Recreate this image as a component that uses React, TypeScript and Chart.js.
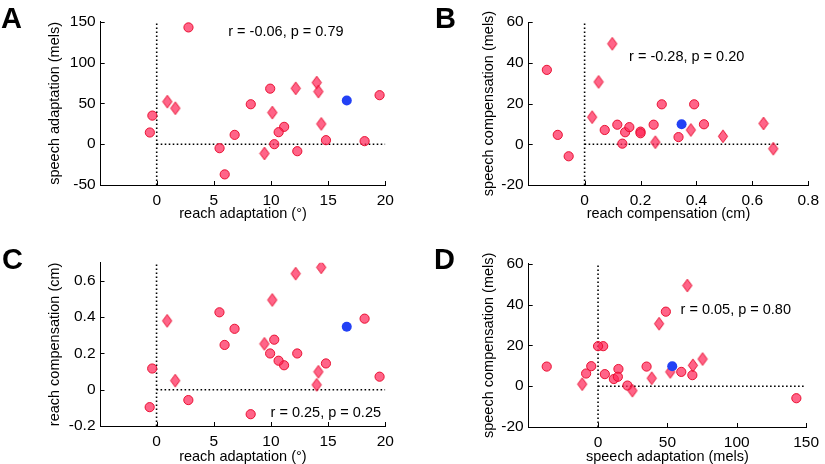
import React, { useEffect, useRef } from "react";
import { Chart, registerables } from "chart.js";

Chart.register(...registerables);

const FONT = "'Liberation Sans', Arial, Helvetica, sans-serif";
const W = 825;
const H = 480;

// ---- Data: circle subjects ----
const reachAdaptCircle = [2.78, 19.5, 18.19, 14.81, 12.3, 11.15, 10.67, 10.29, 9.93, 8.23, 6.82, 5.95, 5.5, -0.38, -0.6];
const speechAdaptCircle = [143, 60, 3.7, 4.9, -8.6, 21.2, 14.7, 0, 68, 48.9, 11.4, -37, -4.9, 35, 14.3];
const reachCompCircle = [-0.057, 0.072, 0.392, 0.145, 0.2, 0.135, 0.16, 0.276, 0.2, -0.135, 0.336, 0.247, 0.427, 0.117, -0.096];
const speechCompCircle = [-5.9, 7.0, 19.6, 5.9, 6.2, 0.3, 8.4, 19.6, 5.4, 36.5, 3.5, 9.6, 9.8, 9.6, 4.6];

// ---- Data: diamond subjects ----
const reachAdaptDiamond = [0.93, 1.63, 10.12, 9.43, 12.16, 14.0, 14.15, 14.4];
const speechAdaptDiamond = [52.1, 44, 38.7, -11.4, 68.4, 75.4, 64.4, 24.8];
const reachCompDiamond = [0.38, 0.05, 0.495, 0.253, 0.64, 0.027, 0.099, 0.675];
const speechCompDiamond = [7.0, 30.6, 3.9, 1.0, 10.2, 13.3, 49.3, -2.2];

// ---- Data: highlighted (blue) subject ----
const reachAdaptBlue = [16.63];
const speechAdaptBlue = [53.5];
const reachCompBlue = [0.347];
const speechCompBlue = [9.8];

// ---- Tick values ----
const reachAdaptTicks = [0, 5, 10, 15, 20];
const reachCompTicksX = [0, 0.2, 0.4, 0.6, 0.8];
const speechAdaptTicksX = [0, 50, 100, 150];
const speechAdaptTicksY = [-50, 0, 50, 100, 150];
const speechCompTicks = [-20, 0, 20, 40, 60];
const reachCompTicksY = [-0.2, 0, 0.2, 0.4, 0.6];

const PINK_FILL = "rgba(255, 40, 90, 0.72)";
const PINK_EDGE = "rgba(232, 12, 45, 0.95)";
const BLUE = "rgb(35, 65, 245)";

function makeDiamond(): HTMLCanvasElement {
  const c = document.createElement("canvas");
  c.width = 12;
  c.height = 15;
  const ctx = c.getContext("2d")!;
  ctx.beginPath();
  ctx.moveTo(6, 1.2);
  ctx.lineTo(10.6, 7.5);
  ctx.lineTo(6, 13.8);
  ctx.lineTo(1.4, 7.5);
  ctx.closePath();
  ctx.fillStyle = PINK_FILL;
  ctx.fill();
  ctx.strokeStyle = PINK_EDGE;
  ctx.lineWidth = 1;
  ctx.stroke();
  return c;
}

const zip = (xs: number[], ys: number[]) => xs.map((x, i) => ({ x, y: ys[i] }));

interface Panel {
  letter: string;
  letterX: number;
  letterY: number;
  xs: number[][];
  ys: number[][];
  xMin: number;
  xMax: number;
  yMin: number;
  yMax: number;
  xTicks: number[];
  yTicks: number[];
  xTitle: string;
  yTitle: string;
  area: { l: number; r: number; t: number; b: number };
  yTitleX: number;
  xTitleY: number;
  note: string;
  noteX: number;
  noteY: number;
  hEnd: number;
}

const panels: Panel[] = [
  {
    letter: "A", letterX: 1, letterY: 27.5,
    xs: [reachAdaptCircle, reachAdaptDiamond, reachAdaptBlue],
    ys: [speechAdaptCircle, speechAdaptDiamond, speechAdaptBlue],
    xMin: -4.9, xMax: 20, yMin: -50, yMax: 150,
    xTicks: reachAdaptTicks, yTicks: speechAdaptTicksY,
    xTitle: "reach adaptation (°)", yTitle: "speech adaptation (mels)",
    area: { l: 100.7, r: 385.3, t: 21.7, b: 185 },
    yTitleX: 55, xTitleY: 214,
    note: "r = -0.06, p = 0.79", noteX: 6.26, noteY: 137.8, hEnd: 20,
  },
  {
    letter: "B", letterX: 435, letterY: 27.5,
    xs: [reachCompCircle, reachCompDiamond, reachCompBlue],
    ys: [speechCompCircle, speechCompDiamond, speechCompBlue],
    xMin: -0.2, xMax: 0.8, yMin: -20, yMax: 60,
    xTicks: reachCompTicksX, yTicks: speechCompTicks,
    xTitle: "reach compensation (cm)", yTitle: "speech compensation (mels)",
    area: { l: 528.7, r: 814.3, t: 22, b: 185 },
    yTitleX: 488.7, xTitleY: 214,
    note: "r = -0.28, p = 0.20", noteX: 0.159, noteY: 43.0, hEnd: 0.7,
  },
  {
    letter: "C", letterX: 2, letterY: 268.5,
    xs: [reachAdaptCircle, reachAdaptDiamond, reachAdaptBlue],
    ys: [reachCompCircle, reachCompDiamond, reachCompBlue],
    xMin: -4.9, xMax: 20, yMin: -0.2, yMax: 0.7,
    xTicks: reachAdaptTicks, yTicks: reachCompTicksY,
    xTitle: "reach adaptation (°)", yTitle: "reach compensation (cm)",
    area: { l: 100.5, r: 385.3, t: 262.8, b: 426 },
    yTitleX: 55, xTitleY: 456.5,
    note: "r = 0.25, p = 0.25", noteX: 9.97, noteY: -0.13, hEnd: 20,
  },
  {
    letter: "D", letterX: 434, letterY: 268.5,
    xs: [speechAdaptCircle, speechAdaptDiamond, speechAdaptBlue],
    ys: [speechCompCircle, speechCompDiamond, speechCompBlue],
    xMin: -50, xMax: 150, yMin: -20, yMax: 60,
    xTicks: speechAdaptTicksX, yTicks: speechCompTicks,
    xTitle: "speech adaptation (mels)", yTitle: "speech compensation (mels)",
    area: { l: 528.7, r: 814, t: 263.7, b: 427 },
    yTitleX: 488.7, xTitleY: 456.5,
    note: "r = 0.05, p = 0.80", noteX: 59.5, noteY: 37.1, hEnd: 150,
  },
];

const decoPlugin = {
  id: "panelDeco",
  afterDraw(chart: any, _args: any, opts: any) {
    const ctx = chart.ctx;
    const xs = chart.scales.x;
    const ys = chart.scales.y;
    const ca = chart.chartArea;
    ctx.save();
    // inward tick marks
    ctx.strokeStyle = "#000";
    ctx.lineWidth = 1;
    ctx.beginPath();
    for (const v of opts.xTicks) {
      const px = Math.round(xs.getPixelForValue(v)) + 0.5;
      ctx.moveTo(px, ca.bottom);
      ctx.lineTo(px, ca.bottom - 4);
    }
    for (const v of opts.yTicks) {
      const py = Math.round(ys.getPixelForValue(v)) + 0.5;
      ctx.moveTo(ca.left, py);
      ctx.lineTo(ca.left + 4, py);
    }
    ctx.stroke();
    // correlation note
    ctx.fillStyle = "#000";
    ctx.font = `14.5px ${FONT}`;
    ctx.textAlign = "left";
    ctx.textBaseline = "middle";
    ctx.fillText(opts.note, xs.getPixelForValue(opts.noteX), ys.getPixelForValue(opts.noteY));
    // panel letter
    ctx.font = `bold 29px ${FONT}`;
    ctx.textBaseline = "alphabetic";
    ctx.fillText(opts.letter, opts.letterX, opts.letterY);
    ctx.restore();
  },
};

function PanelChart({ p }: { p: Panel }) {
  const ref = useRef<HTMLCanvasElement | null>(null);
  useEffect(() => {
    if (!ref.current) return;
    const diamond = makeDiamond();
    const titleOffset = 14.5 * 1.2 / 2 + 4;
    const padLeft = p.yTitleX - titleOffset;
    const xBottom = p.xTitleY + titleOffset;
    const dotted = {
      borderColor: "#000",
      borderWidth: 1.6,
      borderDash: [1.6, 2.4],
      pointRadius: 0,
      fill: false,
      showLine: true,
      order: 3,
    };
    const tickFont = { family: FONT, size: 15.5 };
    const titleFont = { family: FONT, size: 14.5 };
    const chart = new Chart(ref.current, {
      type: "scatter",
      data: {
        datasets: [
          { type: "line", data: [{ x: 0, y: p.yMin }, { x: 0, y: p.yMax }], ...dotted } as any,
          { type: "line", data: [{ x: 0, y: 0 }, { x: p.hEnd, y: 0 }], ...dotted } as any,
          {
            data: zip(p.xs[0], p.ys[0]),
            pointStyle: "circle",
            pointRadius: 4.6,
            backgroundColor: PINK_FILL,
            borderColor: PINK_EDGE,
            borderWidth: 1,
            order: 2,
          },
          {
            data: zip(p.xs[1], p.ys[1]),
            pointStyle: diamond,
            pointRadius: 6,
            backgroundColor: PINK_FILL,
            borderColor: PINK_EDGE,
            order: 1,
          },
          {
            data: zip(p.xs[2], p.ys[2]),
            pointStyle: "circle",
            pointRadius: 5,
            backgroundColor: BLUE,
            borderWidth: 0,
            order: 0,
          },
        ],
      },
      options: {
        animation: false,
        responsive: false,
        devicePixelRatio: 1,
        events: [],
        layout: {
          padding: {
            left: padLeft,
            right: W - p.area.r,
            top: p.area.t,
            bottom: H - xBottom,
          },
        },
        plugins: {
          legend: { display: false },
          tooltip: { enabled: false },
          panelDeco: {
            xTicks: p.xTicks,
            yTicks: p.yTicks,
            note: p.note,
            noteX: p.noteX,
            noteY: p.noteY,
            letter: p.letter,
            letterX: p.letterX,
            letterY: p.letterY,
          },
        } as any,
        scales: {
          x: {
            type: "linear",
            min: p.xMin,
            max: p.xMax,
            afterBuildTicks: (s: any) => {
              s.ticks = p.xTicks.map((v) => ({ value: v }));
            },
            afterFit: (s: any) => {
              s.height = xBottom - p.area.b;
            },
            grid: { display: false, drawTicks: false },
            border: { display: true, color: "#000", width: 1 },
            ticks: {
              color: "#000",
              font: tickFont,
              padding: 6,
              autoSkip: false,
              maxRotation: 0,
              callback: (v: any) => String(Math.round(Number(v) * 1000) / 1000),
            },
            title: { display: true, text: p.xTitle, color: "#000", font: titleFont, padding: { top: 4, bottom: 4 } },
          },
          y: {
            type: "linear",
            min: p.yMin,
            max: p.yMax,
            afterBuildTicks: (s: any) => {
              s.ticks = p.yTicks.map((v) => ({ value: v }));
            },
            afterFit: (s: any) => {
              s.width = p.area.l - padLeft;
            },
            grid: { display: false, drawTicks: false },
            border: { display: true, color: "#000", width: 1 },
            ticks: {
              color: "#000",
              font: tickFont,
              padding: 5,
              autoSkip: false,
              callback: (v: any) => String(Math.round(Number(v) * 1000) / 1000),
            },
            title: { display: true, text: p.yTitle, color: "#000", font: titleFont, padding: { top: 4, bottom: 4 } },
          },
        },
      } as any,
      plugins: [decoPlugin],
    });
    return () => chart.destroy();
  }, [p]);
  return (
    <canvas
      ref={ref}
      width={W}
      height={H}
      style={{ position: "absolute", left: 0, top: 0, width: W, height: H }}
    />
  );
}

export default function App() {
  return (
    <div
      style={{
        position: "absolute",
        left: 0,
        top: 0,
        width: 825,
        height: 464,
        overflow: "hidden",
        background: "#fff",
      }}
    >
      {panels.map((p) => (
        <PanelChart key={p.letter} p={p} />
      ))}
    </div>
  );
}
